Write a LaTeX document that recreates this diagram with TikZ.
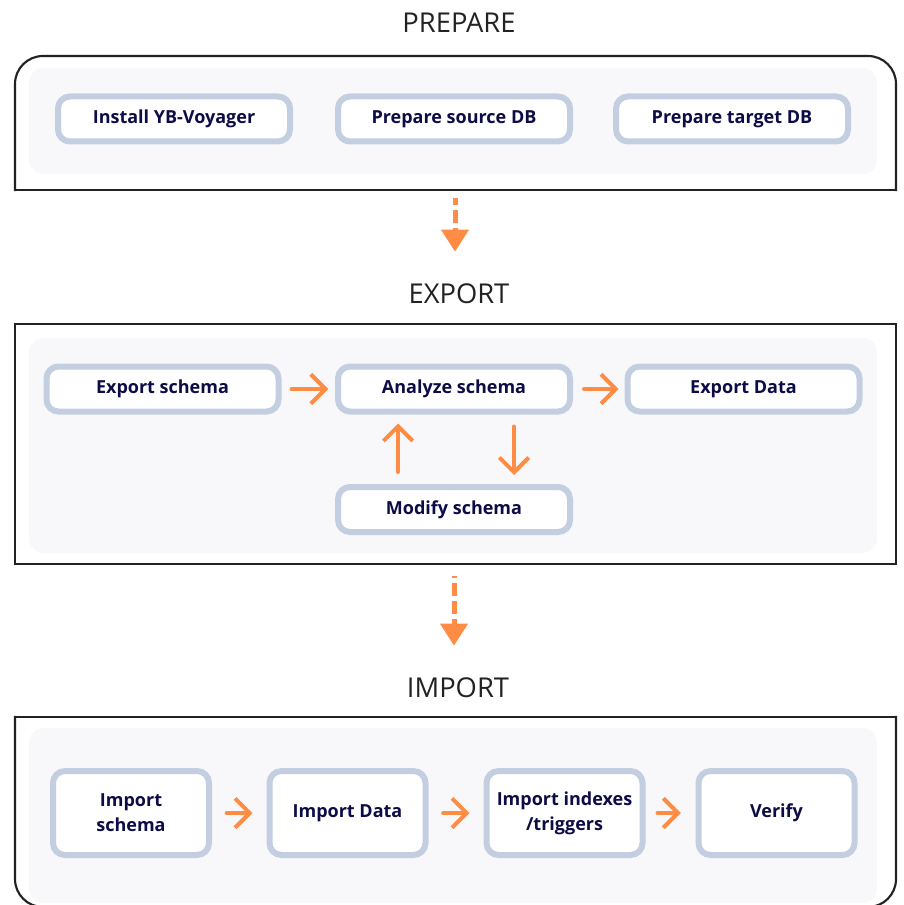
\documentclass[tikz,border=0pt]{standalone}
\usepackage{fontspec}
\setmainfont{Open Sans}
\usetikzlibrary{arrows.meta,positioning,calc}
\definecolor{framegray}{HTML}{222222}
\definecolor{panelbg}{HTML}{F8F8FB}
\definecolor{stepline}{HTML}{C4CEE1}
\definecolor{steptext}{HTML}{0C0C46}
\definecolor{flowclr}{HTML}{FF8C45}
\tikzset{stagetitle/.style={font=\fontsize{20.5}{24}\selectfont, text=framegray, inner sep=0pt},
stepbox/.style={draw=stepline, fill=white, line width=4.5pt, rounded corners=9pt,
  text=steptext, font=\bfseries\fontsize{13.5}{18.75}\selectfont, align=center,
  minimum width=174pt, minimum height=33.75pt, inner sep=0pt},
tallbox/.style={stepbox, minimum width=117pt, minimum height=63pt},
stageframe/.style={draw=framegray, line width=1.6pt, line cap=rect},
flow/.style={draw=flowclr, line width=3pt, line cap=round, line join=round,
  -{Straight Barb[length=11pt,width=22pt]}},
handoff/.style={draw=flowclr, line width=3.75pt, dash pattern=on 9.75pt off 3.75pt,
  -{Triangle[length=16.5pt,width=20pt]}, shorten >=24pt}}

\begin{document}
\begin{tikzpicture}[x=0.75pt, y=-0.75pt]
        \useasboundingbox (0,0) rectangle (903,905);

        % panels
        \fill[panelbg, rounded corners=11pt] (29,68) rectangle (877,174);
        \fill[panelbg, rounded corners=11pt] (29,338) rectangle (877,553);
        \fill[panelbg, rounded corners=11pt] (29,728) rectangle (877,903);

        % frames
        \draw[stageframe, rounded corners=21pt] (15,190) -- (15,56) -- (896,56) -- (896,190);
        \draw[stageframe] (896,190) -- (15,190);
        \draw[stageframe] (15,324) rectangle (896,564);
        \draw[stageframe, rounded corners=21pt] (15,717) -- (15,907) -- (896,907) -- (896,717);
        \draw[stageframe] (896,717) -- (15,717);

        \node[stagetitle] (prepare) at (459,22.5) {PREPARE};
        \node[stagetitle] (export) at (459,294) {EXPORT};
        \node[stagetitle] (import) at (458,688) {IMPORT};

        \node[stepbox] (install) at (174,119) {Install YB-Voyager};
        \node[stepbox] (source) at (454,119) {Prepare source DB};
        \node[stepbox] (target) at (732,119) {Prepare target DB};

        \node[stepbox] (expschema) at (162.5,389) {Export schema};
        \node[stepbox] (analyze) at (454,389) {Analyze schema};
        \node[stepbox] (expdata) at (743.5,389) {Export Data};
        \node[stepbox] (modify) at (454,509.5) {Modify schema};

        \node[tallbox] (impschema) at (131,813) {Import\\schema};
        \node[tallbox] (impdata) at (347.5,813) {Import Data};
        \node[tallbox] (impindex) at (564.5,813) {Import indexes\\/triggers};
        \node[tallbox] (verify) at (776.5,813) {Verify};

        \coordinate (prep-out) at (455,198);
        \coordinate (exp-out) at (454,576);

        \draw[handoff, dash phase=4.5pt] (prep-out) -- (prep-out |- export.north);
        \draw[handoff, dash phase=8.25pt] (exp-out) -- (exp-out |- import.north);

        \draw (expschema) edge[flow, shorten <=7.5pt, shorten >=5pt] (analyze)
              (analyze) edge[flow, shorten <=8.25pt, shorten >=4.5pt] (expdata)
              ([xshift=-42pt]modify.north) edge[flow, shorten <=9pt, shorten >=6.75pt] ([xshift=-42pt]analyze.south)
              ([xshift=45pt]analyze.south) edge[flow, shorten <=9pt, shorten >=6.75pt] ([xshift=45pt]modify.north)

              (impschema) edge[flow, shorten <=11pt, shorten >=10.5pt] (impdata)
              (impdata) edge[flow, shorten <=11pt, shorten >=10.5pt] (impindex)
              (impindex) edge[flow, shorten <=9pt, shorten >=11pt] (verify)
              ;
    \end{tikzpicture}
\end{document}
